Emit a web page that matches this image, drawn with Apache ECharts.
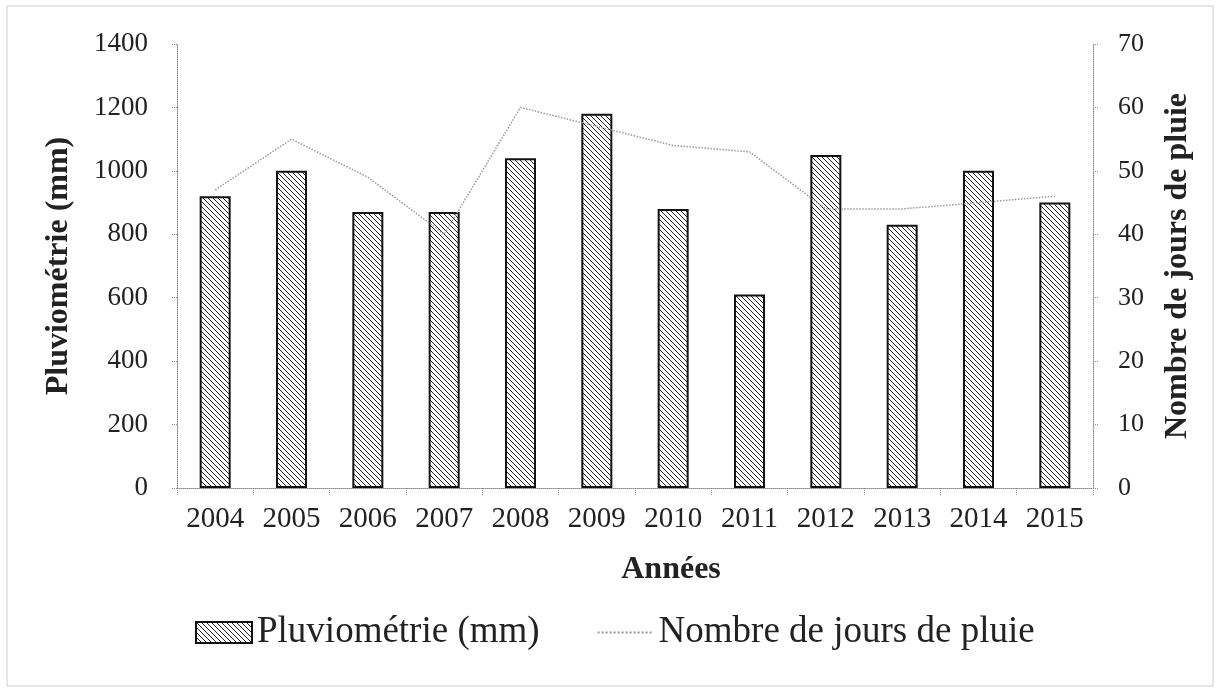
<!DOCTYPE html>
<html>
<head>
<meta charset="utf-8">
<script src="https://cdn.jsdelivr.net/npm/echarts@6/dist/echarts.min.js"></script>
<style>
html, body { margin: 0; padding: 0; background: #fff; }
#container { width: 1220px; height: 692px; }
</style>
</head>
<body>
<div id="container"></div>
<script>
var years = ['2004', '2005', '2006', '2007', '2008', '2009', '2010', '2011', '2012', '2013', '2014', '2015'];
var pluvio = [920, 1000, 870, 870, 1040, 1180, 880, 610, 1050, 830, 1000, 900];
var joursPluie = [47, 55, 49, 40, 60, 57, 54, 53, 44, 44, 45, 46];

// motif hachuré pour les barres
var hatch = document.createElement('canvas');
hatch.width = 5;
hatch.height = 5;
var ctx = hatch.getContext('2d');
ctx.fillStyle = '#fff';
ctx.fillRect(0, 0, 5, 5);
ctx.strokeStyle = '#222';
ctx.lineWidth = 1;
ctx.beginPath();
ctx.moveTo(-1, -1); ctx.lineTo(6, 6);
ctx.moveTo(-6, -1); ctx.lineTo(1, 6);
ctx.moveTo(4, -1); ctx.lineTo(11, 6);
ctx.stroke();

var serif = '"Liberation Serif", "DejaVu Serif", serif';
var dotted = { color: '#888', type: 'dotted', width: 1 };
var nameStyle = { fontFamily: serif, fontSize: 32, fontWeight: 'bold', color: '#222' };

var myChart = echarts.init(document.getElementById('container'));
var option = {
    animation: false,
    backgroundColor: '#fff',
    textStyle: { fontFamily: serif },
    graphic: [{
        type: 'rect',
        shape: { x: 7, y: 6, width: 1206, height: 680 },
        style: { fill: 'none', stroke: '#ccc', lineWidth: 1 }
    }],
    grid: { left: 177, right: 127, top: 44, bottom: 204 },
    legend: {
        top: 609,
        left: 190,
        itemWidth: 56,
        itemHeight: 21,
        itemGap: 57,
        textStyle: { fontFamily: serif, fontSize: 37, color: '#222' },
        data: [
            { name: 'Pluviométrie (mm)', icon: 'rect' },
            { name: 'Nombre de jours de pluie', itemStyle: { opacity: 0 } }
        ]
    },
    xAxis: {
        type: 'category',
        data: years,
        name: 'Années',
        nameLocation: 'middle',
        nameGap: 66,
        nameTextStyle: Object.assign({ padding: [0, 0, 0, 72] }, nameStyle),
        axisLine: { lineStyle: dotted },
        axisTick: { show: true, length: 8, lineStyle: dotted },
        axisLabel: { fontSize: 29, color: '#222', margin: 17 }
    },
    yAxis: [{
        type: 'value',
        min: 0,
        max: 1400,
        interval: 200,
        name: 'Pluviométrie (mm)',
        nameLocation: 'middle',
        nameRotate: 90,
        nameGap: 102,
        nameTextStyle: nameStyle,
        splitLine: { show: false },
        axisLine: { show: true, lineStyle: dotted },
        axisTick: { show: true, length: 5, lineStyle: dotted },
        axisLabel: { fontSize: 27, color: '#222', margin: 29, formatter: function (v) { return String(v); } }
    }, {
        type: 'value',
        min: 0,
        max: 70,
        interval: 10,
        name: 'Nombre de jours de pluie',
        nameLocation: 'middle',
        nameRotate: 90,
        nameGap: 69,
        nameTextStyle: nameStyle,
        splitLine: { show: false },
        axisLine: { show: true, lineStyle: dotted },
        axisTick: { show: true, length: 5, lineStyle: dotted },
        axisLabel: { fontSize: 26, color: '#222', margin: 25 }
    }],
    series: [{
        name: 'Pluviométrie (mm)',
        type: 'bar',
        yAxisIndex: 0,
        barWidth: 31,
        data: pluvio,
        itemStyle: {
            color: { image: hatch, repeat: 'repeat' },
            borderColor: '#111',
            borderWidth: 2
        }
    }, {
        name: 'Nombre de jours de pluie',
        type: 'line',
        yAxisIndex: 1,
        data: joursPluie,
        symbol: 'none',
        lineStyle: { color: '#999', width: 1.5, type: 'dotted' },
        itemStyle: { color: '#bbb' }
    }]
};
myChart.setOption(option);
</script>
</body>
</html>
